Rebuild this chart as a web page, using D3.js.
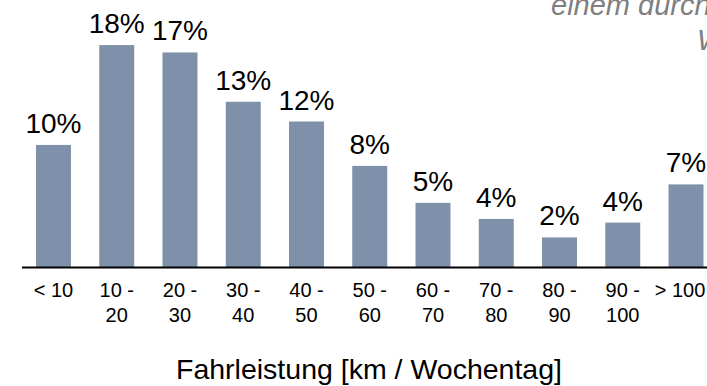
<!DOCTYPE html>
<html>
<head>
<meta charset="utf-8">
<script src="https://cdn.jsdelivr.net/npm/d3@7"></script>
<style>
  html, body { margin: 0; padding: 0; background: #fff; overflow: hidden; }
  svg { display: block; font-family: "Liberation Sans", Arial, sans-serif; }
</style>
</head>
<body>
<svg id="chart" width="707" height="386"></svg>
<script>
// Distance bands (km per weekday)
const categories = ["< 10", "10 - 20", "20 - 30", "30 - 40", "40 - 50", "50 - 60",
                    "60 - 70", "70 - 80", "80 - 90", "90 - 100", "> 100"];
// Share of trips per band, percent
const shares = [9.9, 18.0, 17.4, 13.4, 11.8, 8.2, 5.2, 3.9, 2.4, 3.6, 6.7];
// Texts
const axisTitle = "Fahrleistung [km / Wochentag]";
const headingLines = ["einem durchschnittlichen", "Wochentag"];

const svg = d3.select("#chart");
const baseY = 267;

const x = d3.scaleBand()
  .domain(categories)
  .range([22, 717.5])
  .paddingInner(0.447)
  .paddingOuter(0.2213);

const y = d3.scaleLinear()
  .domain([0, 20])
  .range([baseY, baseY - 20 * 12.33]);

// Heading (runs past the right edge of the frame)
const heading = svg.append("g")
  .attr("fill", "#7f7f7f")
  .style("font-style", "italic")
  .style("font-size", "29px");
heading.append("text").attr("x", 551).attr("y", 15).text(headingLines[0]);
heading.append("text").attr("x", 697).attr("y", 50).text(headingLines[1]);

// Bars
svg.append("g")
  .selectAll("rect")
  .data(shares)
  .join("rect")
  .attr("x", (d, i) => x(categories[i]))
  .attr("y", d => y(d))
  .attr("width", x.bandwidth())
  .attr("height", d => baseY - y(d))
  .attr("fill", "#7f91aa");

// Value labels
svg.append("g")
  .selectAll("text")
  .data(shares)
  .join("text")
  .attr("x", (d, i) => x(categories[i]) + x.bandwidth() / 2)
  .attr("y", d => y(d) - 12)
  .attr("text-anchor", "middle")
  .style("font-size", "28px")
  .attr("fill", "#000")
  .text(d => Math.round(d) + "%");

// Category axis
const axis = svg.append("g")
  .attr("transform", `translate(0,${baseY})`)
  .call(d3.axisBottom(x).tickSize(0).tickPadding(0));
axis.select(".domain")
  .attr("d", `M22,0.5H717.5`)
  .attr("stroke", "#000")
  .attr("stroke-width", 2.2);
axis.selectAll(".tick text")
  .attr("fill", "#000")
  .style("font-size", "20px")
  .style("font-family", "\"Liberation Sans\", Arial, sans-serif")
  .attr("dy", null)
  .attr("y", null)
  .each(function (d, i, nodes) {
    const t = d3.select(this);
    t.text(null);
    const parts = d.match(/^(\d+) - (\d+)$/);
    const lines = parts ? [parts[1] + " -", parts[2]] : [d];
    const shift = i === nodes.length - 1 ? -6 : 0;
    lines.forEach((ln, k) => {
      t.append("tspan")
        .attr("x", shift)
        .attr("y", 30 + k * 25)
        .text(ln);
    });
  });

// Axis title
svg.append("text")
  .attr("x", 369)
  .attr("y", 379)
  .attr("text-anchor", "middle")
  .style("font-size", "28.5px")
  .attr("fill", "#000")
  .text(axisTitle);
</script>
</body>
</html>
